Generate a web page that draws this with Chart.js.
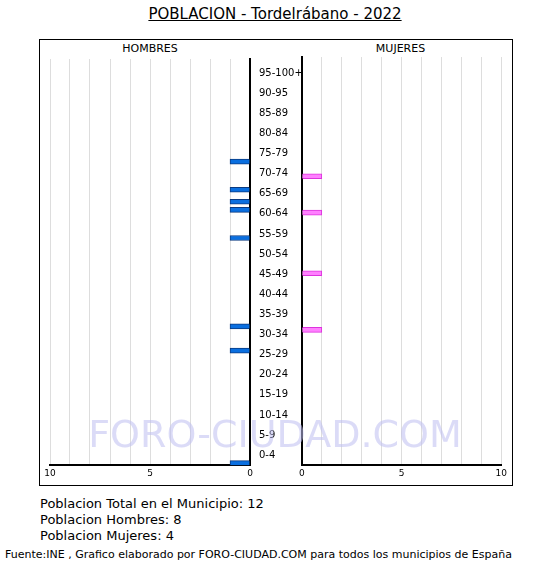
<!DOCTYPE html>
<html><head><meta charset="utf-8">
<script src="https://cdn.jsdelivr.net/npm/chart.js@4"></script>
<style>
body{margin:0;background:#fff;font-family:"DejaVu Sans",sans-serif;}
#wrap{position:relative;width:550px;height:570px;}
.t{position:absolute;color:#000;white-space:nowrap;}
canvas{position:absolute;}
</style></head><body>
<div id="wrap">
<div class="t" style="left:0;width:550px;text-align:center;top:5px;font-size:15px;text-decoration:underline;">POBLACION - Tordelrábano - 2022</div>
<div style="position:absolute;left:39px;top:39px;width:472px;height:445px;border:1px solid #000;"></div>
<div class="t" style="left:50px;width:200px;text-align:center;top:42px;font-size:11px;">HOMBRES</div>
<div class="t" style="left:301px;width:199px;text-align:center;top:42px;font-size:11px;">MUJERES</div>
<canvas id="men" style="left:40px;top:52px;"></canvas>
<canvas id="women" style="left:296px;top:52px;"></canvas>
<div class="t" style="left:0;width:550px;text-align:center;top:412px;font-size:38px;color:rgba(190,190,240,0.55);">FORO-CIUDAD.COM</div>
<div class="t" style="left:40px;top:496px;font-size:13px;">Poblacion Total en el Municipio: 12</div>
<div class="t" style="left:40px;top:512px;font-size:13px;">Poblacion Hombres: 8</div>
<div class="t" style="left:40px;top:528px;font-size:13px;">Poblacion Mujeres: 4</div>
<div class="t" style="left:5px;top:548px;font-size:11px;">Fuente:INE , Grafico elaborado por FORO-CIUDAD.COM para todos los municipios de España</div>
</div>
<script>
const groups = ['0-4','5-9','10-14','15-19','20-24','25-29','30-34','35-39','40-44','45-49','50-54','55-59','60-64','65-69','70-74','75-79','80-84','85-89','90-95','95-100+'];
const menAges = [0, 28, 34, 56, 63, 65, 68, 75];
const womenAges = [33, 47, 62, 71];

const ages = [];
for (let a = 100; a >= 0; a--) ages.push(a);
function series(list) { return ages.map(a => list.includes(a) ? 1 : 0); }

function tickCb(v) { return (v === 0 || v === 5 || v === 10) ? v : ''; }

function makeChart(id, values, color, border, left) {
  const c = document.getElementById(id);
  c.width = left ? 262 : 214; c.height = 430;
  c.style.width = c.width + 'px'; c.style.height = '430px';
  return new Chart(c, {
    type: 'bar',
    data: { labels: ages, datasets: [{ data: values, backgroundColor: color, borderColor: border, borderWidth: 1, barThickness: 5 }] },
    options: {
      indexAxis: 'y', responsive: false, animation: false,
      layout: { padding: { left: left ? 10 : 5, right: left ? 0 : 6, top: 5, bottom: 0 } },
      plugins: { legend: { display: false }, tooltip: { enabled: false } },
      scales: {
        x: {
          min: 0, max: 10, reverse: left,
          ticks: { stepSize: 1, autoSkip: false, maxRotation: 0, callback: tickCb, font: { size: 9, family: 'DejaVu Sans' }, color: '#000' },
          grid: { color: '#ddd', drawTicks: false },
          border: { color: '#000', width: 2 }
        },
        y: {
          position: left ? 'right' : 'left',
          grid: { display: false },
          border: { color: '#000', width: 2 },
          ticks: {
            display: left, autoSkip: false, padding: 1, color: '#000',
            font: { size: 10, family: 'DejaVu Sans' },
            callback: function (v, i) { const a = ages[i]; return a % 5 === 2 ? groups[(a - 2) / 5] : ''; }
          },
          afterFit: s => { s.width = left ? 52 : 0; }
        }
      }
    }
  });
}
makeChart('men', series(menAges), '#0a6fe0', '#0a3a80', true);
makeChart('women', series(womenAges), '#ff80ff', '#dd33dd', false);
</script>
</body></html>
